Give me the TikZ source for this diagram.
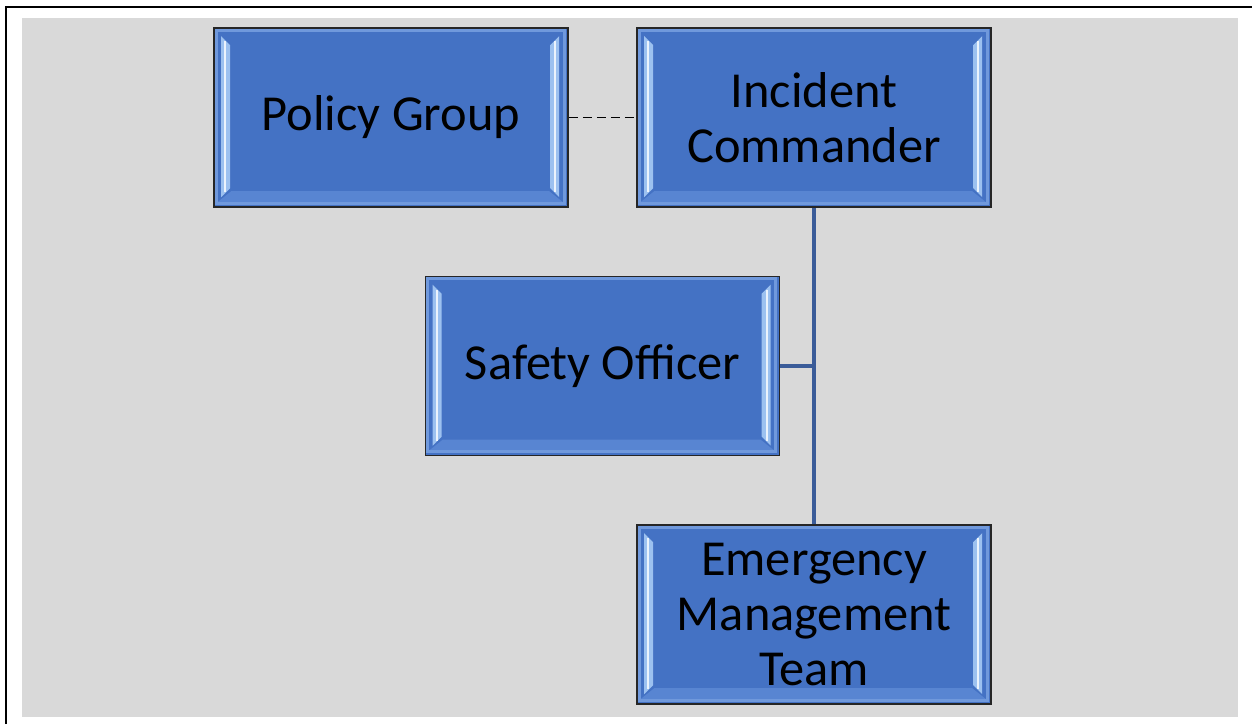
\documentclass[tikz,border=0pt]{standalone}
\usepackage{fontspec}
\setmainfont{Carlito}
\definecolor{boxblue}{HTML}{4472C4}
\definecolor{bgray}{HTML}{D9D9D9}
\definecolor{linkblue}{HTML}{3B5C99}
\definecolor{bevlight}{HTML}{9CC1F0}
\definecolor{bevmid}{HTML}{7099DC}
\definecolor{bevbot}{HTML}{5885D2}
\tikzset{
  orgbox/.style={draw=black!85, line width=0.8pt, fill=boxblue,
    minimum width=177pt, minimum height=89.5pt, inner sep=0pt,
    align=center, font=\fontsize{25.2}{27.5}\selectfont, text=black},
  bevface/.style={bevbot},
  bevstrip/.style={bevlight},
  bevline/.style={white!80!bevlight, line width=1pt},
  bevedge/.style={bevmid, line width=1.5pt},
  link/.style={linkblue, line width=1.6pt},
  dashlink/.style={black, line width=0.75pt, dash pattern=on 4.5pt off 2.5pt}
}
\newcommand{\bevelbox}[1]{%
  \begin{scope}[shift={(#1.north west)}]
    \fill[bevface] (3,176) -- (18,164) -- (336,164) -- (351,176) -- cycle;
    \fill[bevstrip] (8,9) -- (17,18) -- (17,161) -- (8,170) -- cycle;
    \fill[bevstrip] (346,9) -- (337,18) -- (337,161) -- (346,170) -- cycle;
    \draw[bevline] (12,14) -- (12,165);
    \draw[bevline] (342,14) -- (342,165);
    \draw[bevedge] (3,3) rectangle (351,176);
  \end{scope}}
\begin{document}
\begin{tikzpicture}[x=0.5pt, y=-0.5pt]
  \useasboundingbox (0,0) rectangle (1252,724);
  \fill[bgray] (22,18) rectangle (1238,717);
  \draw[line width=1pt] (6,724) -- (6,7) -- (1252,7);
  \node[orgbox] (pg) at (391,117.5) {Policy Group};
  \node[orgbox] (ic) at (814,117.5) {Incident\\Commander};
  \node[orgbox] (so) at (602.5,366) {Safety Officer};
  \node[orgbox] (emt) at (814,614.5) {Emergency\\Management\\Team};
  \bevelbox{pg}
  \bevelbox{ic}
  \bevelbox{so}
  \bevelbox{emt}
  \draw[dashlink] (pg.east) -- (ic.west);
  \draw[link] (ic.south) -- (emt.north);
  \draw[link] (so.east) -- (so.east -| ic.south);
\end{tikzpicture}
\end{document}
